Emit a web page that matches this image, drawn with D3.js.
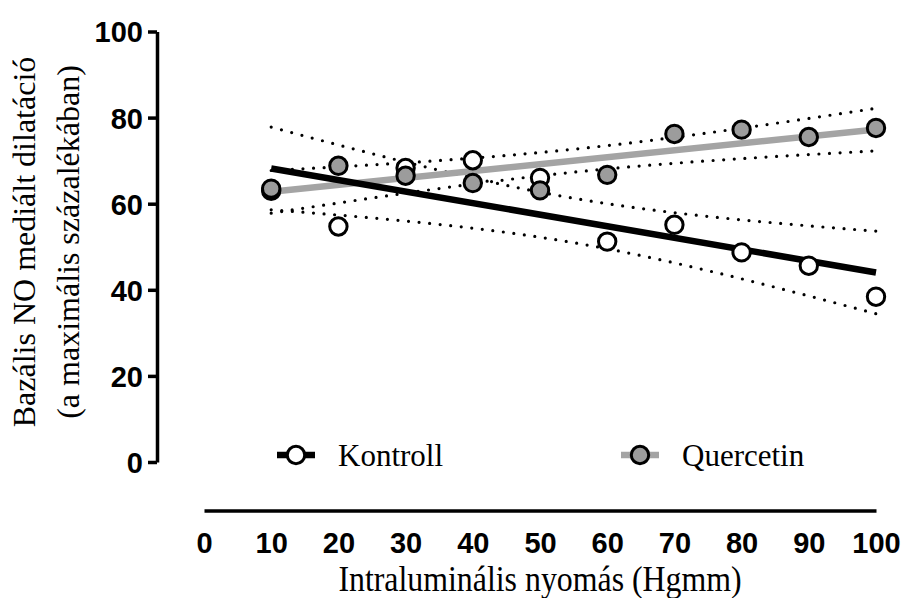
<!DOCTYPE html>
<html>
<head>
<meta charset="utf-8">
<script src="https://cdn.jsdelivr.net/npm/d3@7"></script>
<style>
  body { margin: 0; background: #fff; }
</style>
</head>
<body>
<div id="chart"></div>
<script>
// data
var pressure = [10, 20, 30, 40, 50, 60, 70, 80, 90, 100];
var kontroll = [63, 54.7, 68.3, 70.1, 66.0, 51.2, 55.1, 48.7, 45.6, 38.4];
var quercetin = [63.5, 68.8, 66.5, 64.8, 63.1, 66.7, 76.2, 77.2, 75.5, 77.6];
var yTicks = [0, 20, 40, 60, 80, 100];
var xTicks = [0, 10, 20, 30, 40, 50, 60, 70, 80, 90, 100];

var sansBold = "'Liberation Sans', Arial, Helvetica, sans-serif";
var serif = "'Liberation Serif', 'Times New Roman', 'DejaVu Serif', serif";

var svgWidth = 903;
var svgHeight = 598;

var svg = d3.select("#chart").append("svg")
    .attr("width", svgWidth)
    .attr("height", svgHeight);

var xScale = d3.scaleLinear().domain([0, 100]).range([204, 876]);
var yScale = d3.scaleLinear().domain([0, 100]).range([462, 31.5]);

// linear regression with 95% confidence band (df = 8)
function regression(xs, ys) {
    var n = xs.length;
    var mx = d3.mean(xs), my = d3.mean(ys);
    var sxx = d3.sum(xs, d => (d - mx) * (d - mx));
    var sxy = d3.sum(xs, (d, i) => (d - mx) * (ys[i] - my));
    var slope = sxy / sxx;
    var icpt = my - slope * mx;
    var ss = d3.sum(xs, (d, i) => Math.pow(ys[i] - (icpt + slope * d), 2));
    var s = Math.sqrt(ss / (n - 2));
    var t = 2.306;
    var fit = x => icpt + slope * x;
    var half = x => t * s * Math.sqrt(1 / n + (x - mx) * (x - mx) / sxx);
    return { fit: fit, half: half };
}

var groups = [
    { name: "Kontroll", values: kontroll, line: "#000", fill: "#fff" },
    { name: "Quercetin", values: quercetin, line: "#a4a4a4", fill: "#9c9c9c" }
];

var xs = d3.range(10, 100.01, 1);
var lineGen = d3.line().x(d => xScale(d[0])).y(d => yScale(d[1]));

// confidence bands (dotted)
groups.forEach(function (g) {
    var r = regression(pressure, g.values);
    g.reg = r;
    [1, -1].forEach(function (sign) {
        svg.append("path")
            .attr("d", lineGen(xs.map(x => [x, r.fit(x) + sign * r.half(x)])))
            .attr("fill", "none")
            .attr("stroke", "#000")
            .attr("stroke-width", 3.2)
            .attr("stroke-linecap", "round")
            .attr("stroke-dasharray", "0 10.6");
    });
});

// regression lines: grey first, black on top
[groups[1], groups[0]].forEach(function (g) {
    svg.append("path")
        .attr("d", lineGen([[10, g.reg.fit(10)], [100, g.reg.fit(100)]]))
        .attr("fill", "none")
        .attr("stroke", g.line)
        .attr("stroke-width", 6.5);
});

// points
groups.forEach(function (g) {
    svg.append("g").selectAll("circle")
        .data(g.values)
        .enter()
        .append("circle")
        .attr("cx", (d, i) => xScale(pressure[i]))
        .attr("cy", d => yScale(d))
        .attr("r", 8.7)
        .attr("fill", g.fill)
        .attr("stroke", "#000")
        .attr("stroke-width", 3);
});

// y axis
var yAxis = d3.axisLeft(yScale).tickValues(yTicks).tickSize(9).tickSizeOuter(0).tickPadding(5);
var yG = svg.append("g")
    .attr("transform", "translate(157,0)")
    .call(yAxis)
    .attr("font-family", sansBold)
    .attr("font-size", 29)
    .attr("font-weight", "bold");
yG.select(".domain").attr("stroke-width", 3.5);
yG.selectAll(".tick line").attr("stroke-width", 3.5);
yG.selectAll(".tick text").attr("dy", "0.36em");

// x axis (detached line, no ticks)
var xAxis = d3.axisBottom(xScale).tickValues(xTicks).tickSize(0).tickSizeOuter(0).tickPadding(22);
var xG = svg.append("g")
    .attr("transform", "translate(0,510.5)")
    .call(xAxis)
    .attr("font-family", sansBold)
    .attr("font-size", 29)
    .attr("font-weight", "bold");
xG.select(".domain").attr("stroke-width", 3.5);
xG.selectAll(".tick text").attr("dy", "0.71em");

// axis titles
function serifText(sel) {
    return sel.style("font-family", serif).style("font-size", "32px").attr("fill", "#000");
}

svg.append("text")
    .call(serifText)
    .attr("transform", "translate(35,242) rotate(-90)")
    .attr("text-anchor", "middle")
    .text("Bazális NO mediált dilatáció");

svg.append("text")
    .call(serifText)
    .attr("transform", "translate(79,242) rotate(-90)")
    .attr("text-anchor", "middle")
    .text("(a maximális százalékában)");

svg.append("text")
    .call(serifText)
    .style("font-size", "35px")
    .attr("transform", `translate(${xScale(50)},591) scale(0.91,1)`)
    .attr("text-anchor", "middle")
    .text("Intraluminális nyomás (Hgmm)");

// legend
var legendPos = [296, 640];
groups.forEach(function (g, i) {
    var lg = svg.append("g").attr("transform", `translate(${legendPos[i]},455)`);
    lg.append("line")
        .attr("x1", -19).attr("x2", 19)
        .attr("stroke", g.line)
        .attr("stroke-width", 6.5);
    lg.append("circle")
        .attr("r", 8.7)
        .attr("fill", g.fill)
        .attr("stroke", "#000")
        .attr("stroke-width", 3);
    lg.append("text")
        .call(serifText)
        .attr("x", 42)
        .attr("y", 11)
        .style("font-size", "31px")
        .text(g.name);
});
</script>
</body>
</html>
